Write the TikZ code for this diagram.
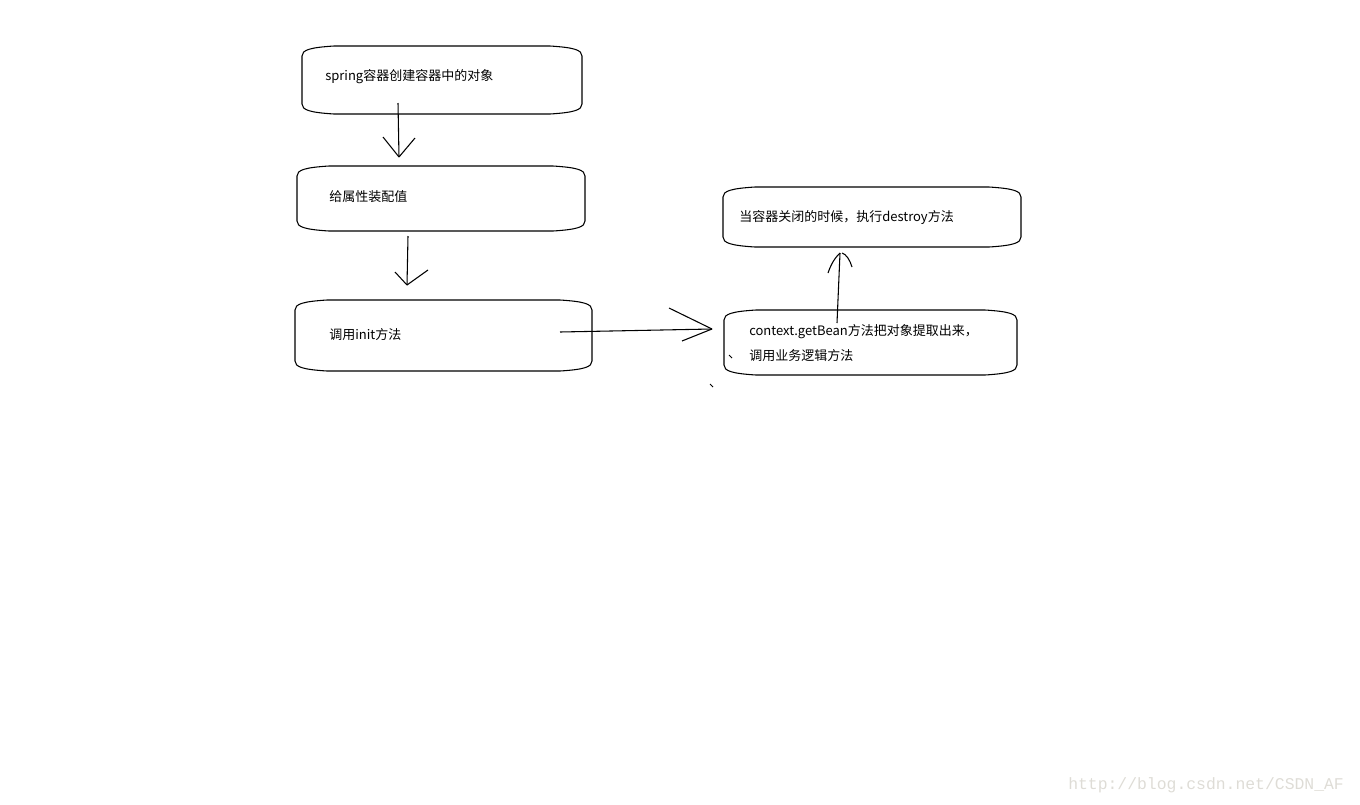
\documentclass[tikz,border=0pt]{standalone}
\usepackage{fontspec}
\setmainfont{Noto Sans CJK SC}
\newfontfamily\wmfont{Liberation Mono}
\usetikzlibrary{calc}
\definecolor{wmgray}{RGB}{222,220,214}
\tikzset{
  boxarea/.style={draw=none, inner sep=0pt, outer sep=0pt},
  boxline/.style={draw=black, line width=0.8pt},
  conn/.style={draw=black, line width=0.8pt},
  lbl/.style={anchor=west, inner sep=0pt, font=\fontsize{9.75pt}{12pt}\selectfont},
  wm/.style={anchor=west, inner sep=0pt, text=wmgray, font=\wmfont\fontsize{12.3pt}{14pt}\selectfont}
}
\newcommand\paintshape[1]{%
  \draw[boxline] ($(#1.north west)+(0,10)$) .. controls ($(#1.north west)+(0,4)$) and ($(#1.north west)+(8,1.5)$) .. ($(#1.north west)+(32,0)$)
   -- ($(#1.north east)+(-32,0)$) .. controls ($(#1.north east)+(-8,1.5)$) and ($(#1.north east)+(0,4)$) .. ($(#1.north east)+(0,10)$)
   -- ($(#1.south east)+(0,-10)$) .. controls ($(#1.south east)+(0,-4)$) and ($(#1.south east)+(-8,-1.5)$) .. ($(#1.south east)+(-32,0)$)
   -- ($(#1.south west)+(32,0)$) .. controls ($(#1.south west)+(8,-1.5)$) and ($(#1.south west)+(0,-4)$) .. ($(#1.south west)+(0,-10)$)
   -- cycle;}
\begin{document}
\begin{tikzpicture}[x=0.75pt, y=-0.75pt]
\useasboundingbox (0,0) rectangle (1360,804);
% boxes
\node[boxarea, minimum width=280*0.75pt, minimum height=68*0.75pt] (b1) at (442,80) {};
\node[boxarea, minimum width=288*0.75pt, minimum height=65*0.75pt] (b2) at (441,198.5) {};
\node[boxarea, minimum width=297*0.75pt, minimum height=71*0.75pt] (b3) at (443.5,335.5) {};
\node[boxarea, minimum width=298*0.75pt, minimum height=60*0.75pt] (b4) at (872,217) {};
\node[boxarea, minimum width=293*0.75pt, minimum height=65*0.75pt] (b5) at (870.5,342.5) {};
\paintshape{b1}
\paintshape{b2}
\paintshape{b3}
\paintshape{b4}
\paintshape{b5}
% labels
\node[lbl] (t1) at (325,76.5) {spring容器创建容器中的对象};
\node[lbl] (t2) at (329,196.5) {给属性装配值};
\node[lbl] (t3) at (329,334.5) {调用init方法};
\node[lbl] (t4) at (739,217.5) {当容器关闭的时候，执行destroy方法};
\node[lbl] (t5a) at (749,331.5) {context.getBean方法把对象提取出来，};
\node[lbl] (t5b) at (749,355.5) {调用业务逻辑方法};
% arrow 1
\coordinate (a1s) at ($(b1.south)+(-44,-11)$);
\coordinate (a1e) at ($(b2.north)+(-42,-9)$);
\draw[conn] (a1s) -- (a1e);
\draw[conn] (a1e) -- ++(-16,-20);
\draw[conn] (a1e) -- ++(16,-19);
% arrow 2
\coordinate (a2s) at ($(b2.south)+(-33,5)$);
\coordinate (a2e) at ($(b3.north)+(-36.5,-15)$);
\draw[conn] (a2s) -- (a2e);
\draw[conn] (a2e) -- ++(-12,-13);
\draw[conn] (a2e) -- ++(21,-15);
% arrow 3
\coordinate (a3s) at ($(b3.east)+(-32,-3.5)$);
\coordinate (a3e) at ($(b5.west)+(-12,-13.5)$);
\draw[conn] (a3s) -- (a3e);
\draw[conn] (a3e) -- ++(-43,-21);
\draw[conn] (a3e) -- ++(-30,12);
% arrow 4
\coordinate (a4s) at ($(b5.north)+(-33.5,13)$);
\coordinate (a4e) at ($(b4.south)+(-32,6)$);
\draw[conn] (a4s) -- (a4e);
\draw[conn] (a4e) .. controls ($(a4e)+(-3,3)$) and ($(a4e)+(-8,8)$) .. ($(a4e)+(-12,20)$);
\draw[conn] ($(a4e)+(2,0)$) .. controls ($(a4e)+(6,1)$) and ($(a4e)+(10,7)$) .. ($(a4e)+(12,14)$);
% stray marks
\draw[conn, line width=0.6pt] (729,355) -- (732,358);
\draw[conn, line width=0.6pt] (710,384) -- (713,387);
% watermark
\node[wm] (wm) at (1068,785) {http://blog.csdn.net/CSDN\_AF};
\end{tikzpicture}
\end{document}
